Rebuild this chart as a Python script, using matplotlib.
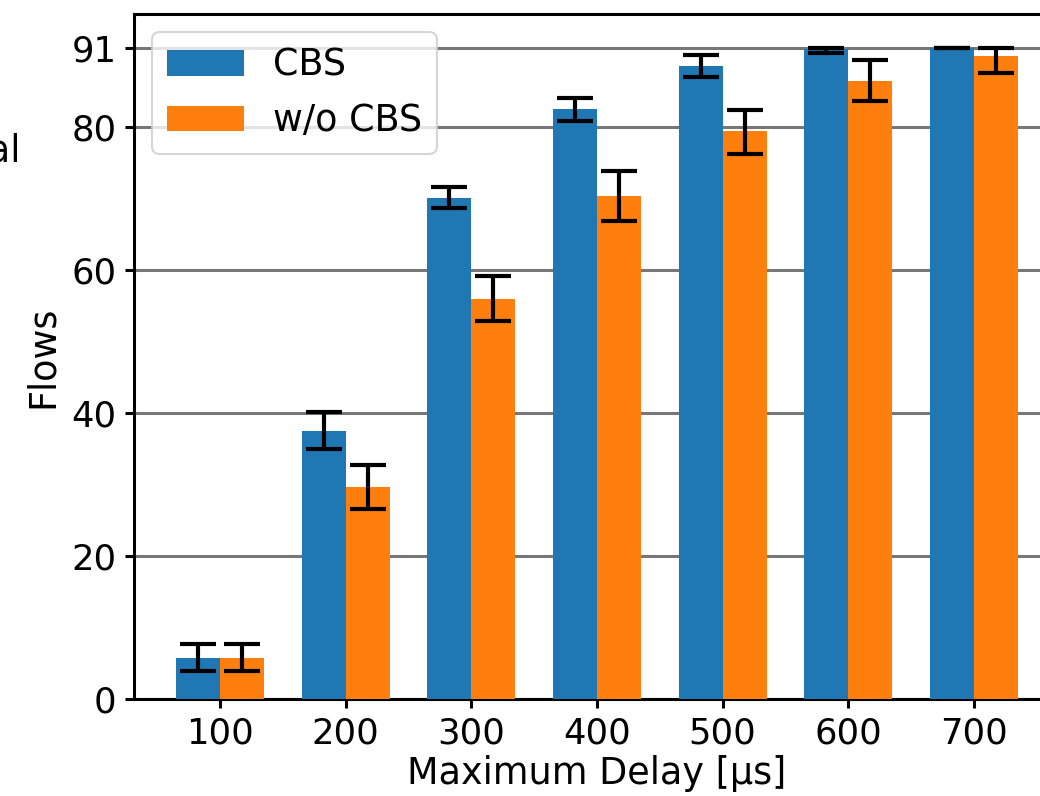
import matplotlib
matplotlib.use("Agg")
import matplotlib.pyplot as plt
import numpy as np

categories = ["100", "200", "300", "400", "500", "600", "700"]
cbs = [5.8, 37.5, 70.1, 82.5, 88.5, 90.9, 91.0]
cbs_low = [3.9, 35.0, 68.7, 80.8, 87.0, 90.4, 91.0]
cbs_high = [7.7, 40.1, 71.6, 84.0, 90.1, 91.0, 91.0]
wo = [5.8, 29.7, 55.9, 70.4, 79.4, 86.4, 89.9]
wo_low = [3.9, 26.6, 52.9, 66.9, 76.2, 83.6, 87.6]
wo_high = [7.7, 32.7, 59.2, 73.9, 82.4, 89.4, 91.0]
yticks = [0, 20, 40, 60, 80, 91]

plt.rcParams['font.family'] = ['DejaVu Sans']
fs_tick = 25.5
fs_lab = 26.3
fs_leg = 26.3

fig = plt.figure(figsize=(10.4, 7.96), dpi=100)
ax = fig.add_axes([134/1040, 1-699/796, (1060-134)/1040, (699-14)/796])

x = np.arange(len(categories))
w = 0.35
cb = np.array(cbs); wb = np.array(wo)
err_c = [cb - np.array(cbs_low), np.array(cbs_high) - cb]
err_w = [wb - np.array(wo_low), np.array(wo_high) - wb]
ekw = dict(elinewidth=3.0, capthick=3.0)
ax.bar(x - w/2, cbs, w, color='#1f77b4', label='CBS', yerr=err_c, capsize=13,
       error_kw=ekw, zorder=3)
ax.bar(x + w/2, wo, w, color='#ff7f0e', label='w/o CBS', yerr=err_w, capsize=13,
       error_kw=ekw, zorder=3)

ax.set_xlim(-0.684, 6.684)
ax.set_ylim(0, 95.8)
ax.set_yticks(yticks)
ax.set_xticks(x)
ax.set_xticklabels(categories)
ax.tick_params(labelsize=fs_tick, width=2.2, length=6.5, pad=6)
ax.yaxis.grid(True, color='#777777', linewidth=2.2, zorder=0)
ax.set_axisbelow(True)
for s in ax.spines.values():
    s.set_linewidth(2.2)

ax.set_xlabel('Maximum Delay [µs]', fontsize=fs_lab, labelpad=3)
ax.set_ylabel('Flows', fontsize=fs_lab, labelpad=8)
fig.text(-0.062, 0.81, 'Total', fontsize=fs_lab, ha='left', va='center')

leg = ax.legend(loc='upper left', fontsize=fs_leg, bbox_to_anchor=(0.0, 1.0),
                borderaxespad=0.5, handlelength=2.1)
leg.get_frame().set_linewidth(1.5)

fig.savefig('out.png', dpi=100)
